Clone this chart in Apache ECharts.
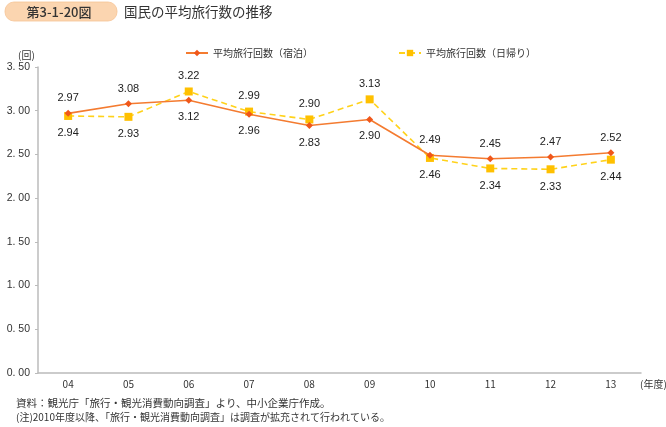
<!DOCTYPE html>
<html><head><meta charset="utf-8">
<script src="https://cdn.jsdelivr.net/npm/echarts@6/dist/echarts.min.js"></script>
<style>html,body{margin:0;padding:0;background:#fff}#c{width:666px;height:427px}</style>
</head><body><div id="c"></div>
<script>
const categories = ['04','05','06','07','08','09','10','11','12','13'];
const stayValues = [2.97,3.08,3.12,2.96,2.83,2.90,2.49,2.45,2.47,2.52];
const dayValues = [2.94,2.93,3.22,2.99,2.90,3.13,2.46,2.34,2.33,2.44];
const stayLabelPos = ['top','top','bottom','bottom','bottom','bottom','top','top','top','top'];
const dayLabelPos = ['bottom','bottom','top','top','top','top','bottom','bottom','bottom','bottom'];
const seriesNames = ['平均旅行回数（宿泊）','平均旅行回数（日帰り）'];
const yTicks = {min:0, max:3.5, interval:0.5};

const chart = echarts.init(document.getElementById('c'));
const jp = '"Noto Sans CJK JP", sans-serif';
const lbl = {fontFamily:'"Liberation Sans", Arial, sans-serif', fontSize:11, color:'#222'};
function mk(vals, pos){
  return vals.map((v,i)=>({value:v, label:{position:pos[i], distance: pos[i]==='top'?6:8}}));
}
chart.setOption({
  animation:false,
  graphic:[
    {type:'rect', shape:{x:5,y:2,width:112,height:19,r:9}, style:{fill:'#FBD5B0', stroke:'#F6C496', lineWidth:0.8}},
    {type:'text', style:{x:59,y:12,text:'第3-1-20図',textAlign:'center',textVerticalAlign:'middle',font:'500 13px '+jp,fill:'#333'}},
    {type:'text', style:{x:124,y:12,text:'国民の平均旅行数の推移',textVerticalAlign:'middle',font:'13.5px '+jp,fill:'#333'}},
    {type:'text', style:{x:18,y:55,text:'(回)',textVerticalAlign:'middle',font:'10px '+jp,fill:'#333'}},
    {type:'text', style:{x:640,y:384,text:'(年度)',textVerticalAlign:'middle',font:'10px '+jp,fill:'#333'}},
    {type:'text', style:{x:16,y:403,text:'資料：観光庁「旅行・観光消費動向調査」より、中小企業庁作成。',textVerticalAlign:'middle',font:'10.5px '+jp,fill:'#333'}},
    {type:'text', style:{x:16,y:417,text:'(注)2010年度以降、「旅行・観光消費動向調査」は調査が拡充されて行われている。',textVerticalAlign:'middle',font:'10px '+jp,fill:'#333'}}
  ],
  legend:{
    top:43, left:180, itemGap:85, itemWidth:22, itemHeight:8,
    textStyle:{fontFamily:jp, fontSize:10, color:'#333'},
    data:seriesNames
  },
  grid:{left:38, right:25, top:67, bottom:54},
  xAxis:{
    type:'category', data:categories, boundaryGap:true,
    axisLine:{lineStyle:{color:'#BBBBBB', width:1.5}},
    axisTick:{inside:true, length:3, lineStyle:{color:'#BBBBBB'}},
    axisLabel:{fontFamily:jp, fontSize:10, color:'#333', margin:6}
  },
  yAxis:{
    type:'value', min:yTicks.min, max:yTicks.max, interval:yTicks.interval,
    splitLine:{show:false},
    axisLine:{show:true, lineStyle:{color:'#BBBBBB', width:1.5}},
    axisTick:{show:true, length:3, lineStyle:{color:'#BBBBBB'}},
    axisLabel:{fontFamily:'"Liberation Sans", Arial, sans-serif', fontSize:10.5, color:'#333', margin:8,
      formatter:v=>v.toFixed(2).replace('.', '. ')}
  },
  series:[
    {name:seriesNames[0], type:'line', data:mk(stayValues, stayLabelPos),
      symbol:'diamond', symbolSize:7,
      lineStyle:{color:'#F47B30', width:1.6},
      itemStyle:{color:'#F0571A'},
      label:{show:true, ...lbl, formatter:p=>p.value.toFixed(2)}, z:3},
    {name:seriesNames[1], type:'line', data:mk(dayValues, dayLabelPos),
      symbol:'rect', symbolSize:8,
      lineStyle:{color:'#FFD21A', width:1.6, type:[6,4]},
      itemStyle:{color:'#FFC000'},
      label:{show:true, ...lbl, formatter:p=>p.value.toFixed(2)}, z:2}
  ]
});
</script></body></html>
